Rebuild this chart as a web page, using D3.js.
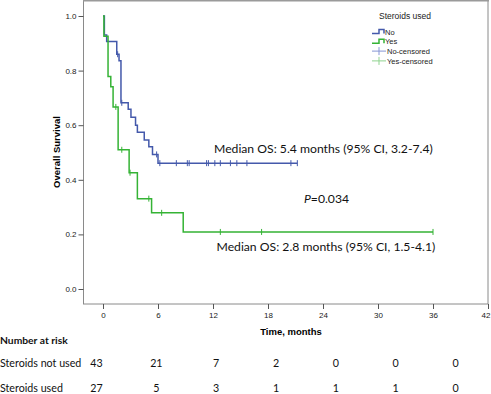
<!DOCTYPE html>
<html>
<head>
<meta charset="utf-8">
<script src="https://cdn.jsdelivr.net/npm/d3@7"></script>
<style>
  body { margin: 0; background: #fff; }
  svg { display: block; }
  .ax text { font-family: "Liberation Sans", Arial, sans-serif; font-size: 8px; fill: #222; }
  .cal { font-family: Lato, "Open Sans", sans-serif; fill: #111; }
</style>
</head>
<body>
<script>
// step points [time, survival]
var noSteps = [[0, 1.0], [0.15, 0.93], [0.4, 0.907], [1.5, 0.86], [1.75, 0.836], [1.96, 0.682],
  [2.75, 0.658], [3.05, 0.629], [3.55, 0.60], [3.75, 0.574], [4.5, 0.546], [5.0, 0.521],
  [5.4, 0.493], [6.0, 0.461]];
var noEnd = 21.2;
var noCensor = [1.6, 2.05, 5.85, 6.2, 8.0, 9.2, 9.4, 11.3, 11.5, 12.2, 12.8, 13.9, 14.6, 15.7, 20.5, 21.2];

var yesSteps = [[0, 1.0], [0.1, 0.926], [0.55, 0.778], [0.85, 0.741], [1.1, 0.667], [1.65, 0.51],
  [2.85, 0.426], [3.75, 0.331], [5.3, 0.279], [8.75, 0.209]];
var yesEnd = 36;
var yesCensor = [1.4, 2.05, 2.95, 5.0, 6.4, 12.8, 17.3, 36.0];

var xTicks = [0, 6, 12, 18, 24, 30, 36, 42];
var yTicks = [0, 0.2, 0.4, 0.6, 0.8, 1.0];

var legendLabels = ["No", "Yes", "No-censored", "Yes-censored"];
var riskTimes = [0, 6, 12, 18, 24, 30, 36];
var riskRows = ["Steroids not used", "Steroids used"];
var riskNo = [43, 21, 7, 2, 0, 0, 0];
var riskYes = [27, 5, 3, 1, 1, 1, 0];

var blue = "#4459ab", green = "#35b335", blueLight = "#8595d4", greenLight = "#8fd38f";

var W = 491, H = 394;
var svg = d3.select("body").append("svg")
    .attr("width", W)
    .attr("height", H);

var x = d3.scaleLinear().domain([0, 42]).range([103, 488]);
var y = d3.scaleLinear().domain([0, 1]).range([289, 16]);

// plot frame
svg.append("rect")
    .attr("x", 83.5).attr("y", 0.5)
    .attr("width", 404.5).attr("height", 303.5)
    .attr("fill", "none").attr("stroke", "#8a8a8a").attr("stroke-width", 1);
svg.append("line")
    .attr("x1", 83).attr("x2", 489).attr("y1", 0.5).attr("y2", 0.5)
    .attr("stroke", "#9a9a9a").attr("stroke-width", 2);

// axes
var yAxis = svg.append("g").attr("class", "ax")
    .attr("transform", "translate(83.5,0)")
    .call(d3.axisLeft(y).tickValues(yTicks).tickFormat(d3.format(".1f")).tickSize(5).tickPadding(2));
var xAxis = svg.append("g").attr("class", "ax")
    .attr("transform", "translate(0,304)")
    .call(d3.axisBottom(x).tickValues(xTicks).tickSize(5).tickPadding(3));
svg.selectAll(".ax .domain").remove();
svg.selectAll(".ax line").attr("stroke", "#555");
// last label sits against the right edge
xAxis.selectAll(".tick text").filter(function(d) { return d === 42; }).attr("dx", -2.5);

svg.append("text")
    .attr("transform", "translate(60,152) rotate(-90)")
    .attr("text-anchor", "middle")
    .style("font-family", "'Liberation Sans', Arial, sans-serif")
    .style("font-size", "9.5px").style("font-weight", "bold")
    .text("Overall Survival");

svg.append("text")
    .attr("x", 291).attr("y", 335)
    .attr("text-anchor", "middle")
    .style("font-family", "'Liberation Sans', Arial, sans-serif")
    .style("font-size", "9.5px").style("font-weight", "bold")
    .text("Time, months");

// KM curves
function stepPath(steps, end) {
  var pts = steps.slice();
  pts.push([end, steps[steps.length - 1][1]]);
  return d3.line()
    .x(function(d) { return x(d[0]); })
    .y(function(d) { return y(d[1]); })
    .curve(d3.curveStepAfter)(pts);
}
function survAt(steps, t) {
  var s = 1;
  steps.forEach(function(d) { if (d[0] <= t) s = d[1]; });
  return s;
}

var groups = [
  {steps: noSteps, end: noEnd, cens: noCensor, color: blue},
  {steps: yesSteps, end: yesEnd, cens: yesCensor, color: green}
];

groups.forEach(function(g) {
  svg.append("path")
      .attr("d", stepPath(g.steps, g.end))
      .attr("fill", "none")
      .attr("stroke", g.color)
      .attr("stroke-width", 1.5);
  svg.selectAll(null)
    .data(g.cens)
    .enter()
      .append("line")
      .attr("x1", function(d) { return x(d); })
      .attr("x2", function(d) { return x(d); })
      .attr("y1", function(d) { return y(survAt(g.steps, d)) - 3; })
      .attr("y2", function(d) { return y(survAt(g.steps, d)) + 3; })
      .attr("stroke", g.color)
      .attr("stroke-width", 1);
});

// legend
var lg = svg.append("g").attr("transform", "translate(372,0)");
lg.append("text")
    .attr("x", 33).attr("y", 19)
    .attr("text-anchor", "middle")
    .style("font-family", "'Liberation Sans', Arial, sans-serif")
    .style("font-size", "8.5px").style("fill", "#222")
    .text("Steroids used");
var legendColors = [blue, green, blueLight, greenLight];
legendLabels.forEach(function(lab, i) {
  var cy = 31.5 + i * 9.8;
  if (i < 2) {
    lg.append("path")
        .attr("d", "M0," + (cy + 2) + "H7V" + (cy - 2) + "H12V" + (cy + 2))
        .attr("fill", "none").attr("stroke", legendColors[i]).attr("stroke-width", 1.5);
  } else {
    lg.append("line").attr("x1", 0).attr("x2", 14).attr("y1", cy).attr("y2", cy)
        .attr("stroke", legendColors[i]).attr("stroke-width", 1);
    lg.append("line").attr("x1", 7).attr("x2", 7).attr("y1", cy - 4).attr("y2", cy + 4)
        .attr("stroke", legendColors[i]).attr("stroke-width", 1);
  }
  lg.append("text")
      .attr("x", i < 2 ? 13 : 15).attr("y", cy + 3)
      .style("font-family", "'Liberation Sans', Arial, sans-serif")
      .style("font-size", "7.5px").style("fill", "#222")
      .text(lab);
});

// annotations
svg.append("text").attr("class", "cal")
    .attr("x", 214).attr("y", 153)
    .style("font-size", "12.2px")
    .text("Median OS: 5.4 months (95% CI, 3.2-7.4)");
svg.append("text").attr("class", "cal")
    .attr("x", 216.5).attr("y", 250.5)
    .style("font-size", "12.2px")
    .text("Median OS: 2.8 months (95% CI, 1.5-4.1)");
var pt = svg.append("text").attr("class", "cal")
    .attr("x", 304).attr("y", 203)
    .style("font-size", "12.2px");
pt.append("tspan").style("font-style", "italic").text("P");
pt.append("tspan").text("=0.034");

// number at risk table
var rx = d3.scaleLinear().domain([0, 36]).range([96.5, 455.5]);
svg.append("text").attr("class", "cal")
    .attr("x", 0).attr("y", 343.5)
    .style("font-size", "10.3px").style("font-weight", "bold")
    .text("Number at risk");
var rowY = [366.5, 392];
[riskNo, riskYes].forEach(function(row, r) {
  svg.append("text").attr("class", "cal")
      .attr("x", 0).attr("y", rowY[r])
      .style("font-size", "10.7px")
      .text(riskRows[r]);
  svg.selectAll(null)
    .data(row)
    .enter()
      .append("text").attr("class", "cal")
      .attr("x", function(d, i) { return rx(riskTimes[i]); })
      .attr("y", rowY[r])
      .attr("text-anchor", "middle")
      .style("font-size", "10.7px")
      .text(function(d) { return d; });
});
</script>
</body>
</html>
